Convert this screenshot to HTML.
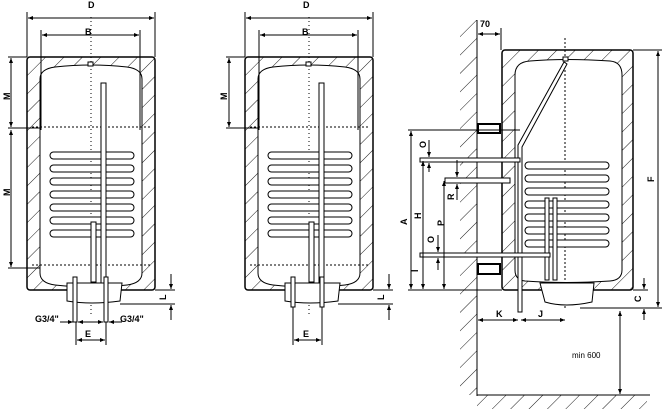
<!DOCTYPE html>
<html><head><style>body{margin:0;background:#fff}svg{display:block}text{font-family:"Liberation Sans",sans-serif;font-weight:bold;font-size:9px}</style></head><body>
<svg width="665" height="409" viewBox="0 0 665 409" xmlns="http://www.w3.org/2000/svg">
<defs>
<pattern id="h" width="13" height="13" patternUnits="userSpaceOnUse" patternTransform="rotate(45)"><line x1="0" y1="0" x2="0" y2="13" stroke="#000" stroke-width="0.9"/></pattern>
<marker id="a" viewBox="0 0 10 10" refX="10" refY="5" markerWidth="5" markerHeight="5" orient="auto-start-reverse"><path d="M0,1L10,5L0,9z" fill="#000"/></marker>
<g id="coil" fill="#fff" stroke="#000" stroke-width="1">
<rect x="0" y="0" width="84" height="7" rx="3.5"/><rect x="0" y="13" width="84" height="7" rx="3.5"/><rect x="0" y="26" width="84" height="7" rx="3.5"/><rect x="0" y="39" width="84" height="7" rx="3.5"/><rect x="0" y="52" width="84" height="7" rx="3.5"/><rect x="0" y="65" width="84" height="7" rx="3.5"/><rect x="0" y="78" width="84" height="7" rx="3.5"/>
</g>
<g id="tank">
<rect x="0" y="0" width="128" height="233" rx="3" fill="url(#h)" stroke="#000" stroke-width="1.5"/>
<path d="M13,22 Q13,12 28,10 Q64,6 100,10 Q115,12 115,22 L115,216 Q115,226 100,228 Q64,232 28,228 Q13,226 13,216Z" fill="#fff" stroke="#000"/>
<line x1="5" y1="70" x2="123" y2="70" stroke="#000" stroke-dasharray="2,2"/>
<line x1="5" y1="208" x2="123" y2="208" stroke="#000" stroke-dasharray="2,2"/>
<line x1="64" y1="-40" x2="64" y2="260" stroke="#000" stroke-dasharray="1,3"/>
<rect x="61" y="5" width="5" height="4" fill="#fff" stroke="#000"/>
<use href="#coil" x="23" y="95"/>
<rect x="74" y="26" width="5" height="200" fill="#fff" stroke="#000"/>
<rect x="64" y="165" width="5" height="60" fill="#fff" stroke="#000"/>
<path d="M40,226 L95,226 L93,244 Q64,248 40,244Z" fill="#fff" stroke="#000"/>
</g>
</defs>
<!-- left -->
<use href="#tank" x="27" y="57"/>
<rect x="73" y="277" width="4" height="45" fill="#fff" stroke="#000"/>
<rect x="104" y="277" width="4" height="45" fill="#fff" stroke="#000"/>
<g stroke="#000" fill="none">
<line x1="27" y1="12" x2="27" y2="57"/><line x1="155" y1="12" x2="155" y2="57"/>
<line x1="28" y1="18" x2="154" y2="18" marker-start="url(#a)" marker-end="url(#a)"/>
<line x1="41" y1="30" x2="41" y2="130"/><line x1="140" y1="30" x2="140" y2="130"/>
<line x1="42" y1="35" x2="139" y2="35" marker-start="url(#a)" marker-end="url(#a)"/>
<line x1="8" y1="57" x2="27" y2="57"/><line x1="8" y1="128" x2="40" y2="128"/><line x1="8" y1="268" x2="40" y2="268"/>
<line x1="11" y1="58" x2="11" y2="127" marker-start="url(#a)" marker-end="url(#a)"/>
<line x1="11" y1="130" x2="11" y2="267" marker-start="url(#a)" marker-end="url(#a)"/>
<line x1="155" y1="290" x2="175" y2="290"/><line x1="120" y1="304" x2="175" y2="304"/>
<line x1="171" y1="274" x2="171" y2="289" marker-end="url(#a)"/><line x1="171" y1="320" x2="171" y2="305" marker-end="url(#a)"/>
<line x1="60" y1="322" x2="73" y2="322" marker-end="url(#a)"/><line x1="90" y1="322" x2="78" y2="322" marker-end="url(#a)"/>
<line x1="90" y1="322" x2="103" y2="322" marker-end="url(#a)"/><line x1="122" y1="322" x2="109" y2="322" marker-end="url(#a)"/>
<line x1="76" y1="322" x2="76" y2="345"/><line x1="106" y1="322" x2="106" y2="345"/>
<line x1="77" y1="340" x2="105" y2="340" marker-start="url(#a)" marker-end="url(#a)"/>
</g>
<text x="88" y="8">D</text><text x="85" y="35">B</text>
<text x="10" y="100" transform="rotate(-90 10 100)">M</text><text x="10" y="196" transform="rotate(-90 10 196)">M</text>
<text x="166" y="300" transform="rotate(-90 166 300)">L</text>
<text x="35" y="322">G3/4"</text><text x="120" y="322">G3/4"</text><text x="85" y="337">E</text>
<!-- middle -->
<use href="#tank" x="245" y="57"/>
<rect x="291" y="277" width="4" height="30" fill="#fff" stroke="#000"/>
<rect x="320" y="277" width="4" height="30" fill="#fff" stroke="#000"/>
<g stroke="#000" fill="none">
<line x1="245" y1="12" x2="245" y2="57"/><line x1="373" y1="12" x2="373" y2="57"/>
<line x1="246" y1="18" x2="372" y2="18" marker-start="url(#a)" marker-end="url(#a)"/>
<line x1="259" y1="30" x2="259" y2="130"/><line x1="358" y1="30" x2="358" y2="130"/>
<line x1="260" y1="35" x2="357" y2="35" marker-start="url(#a)" marker-end="url(#a)"/>
<line x1="226" y1="57" x2="245" y2="57"/><line x1="226" y1="128" x2="258" y2="128"/>
<line x1="229" y1="58" x2="229" y2="127" marker-start="url(#a)" marker-end="url(#a)"/>
<line x1="373" y1="290" x2="393" y2="290"/><line x1="338" y1="304" x2="393" y2="304"/>
<line x1="389" y1="274" x2="389" y2="289" marker-end="url(#a)"/><line x1="389" y1="320" x2="389" y2="305" marker-end="url(#a)"/>
<line x1="293" y1="307" x2="293" y2="345"/><line x1="322" y1="307" x2="322" y2="345"/>
<line x1="294" y1="340" x2="321" y2="340" marker-start="url(#a)" marker-end="url(#a)"/>
</g>
<text x="303" y="8">D</text><text x="302" y="35">B</text>
<text x="227" y="100" transform="rotate(-90 227 100)">M</text>
<text x="384" y="300" transform="rotate(-90 384 300)">L</text><text x="303" y="337">E</text>
<!-- right -->
<rect x="460" y="20" width="17" height="375" fill="url(#h)"/>
<rect x="477" y="395" width="170" height="14" fill="url(#h)"/>
<g stroke="#000" fill="none">
<line x1="477" y1="20" x2="477" y2="396"/><line x1="477" y1="395" x2="650" y2="395"/>
<line x1="501" y1="28" x2="501" y2="50"/>
<line x1="478" y1="34" x2="500" y2="34" marker-start="url(#a)" marker-end="url(#a)"/>
</g>
<text x="480" y="27">70</text>
<rect x="502" y="50" width="131" height="240" rx="3" fill="url(#h)" stroke="#000" stroke-width="1.5"/>
<path d="M515,75 Q515,62 530,61 Q565,58 610,61 Q622,62 622,75 L622,270 Q622,280 610,281 Q565,284 525,281 Q515,280 515,270Z" fill="#fff" stroke="#000"/>
<line x1="565" y1="38" x2="565" y2="310" stroke="#000" stroke-dasharray="2,2"/>
<rect x="563" y="57" width="5" height="4" fill="#fff" stroke="#000"/>
<path d="M518,145 L518,312 L522,312 L522,147 L567,64 L564,62 Z" fill="#fff" stroke="#000"/>
<use href="#coil" x="525" y="162"/>
<rect x="545" y="198" width="4" height="82" fill="#fff" stroke="#000"/>
<rect x="553" y="198" width="4" height="82" fill="#fff" stroke="#000"/>
<rect x="478" y="124" width="22" height="9" fill="#fff" stroke="#000" stroke-width="2"/>
<rect x="478" y="264" width="22" height="10" fill="#fff" stroke="#000" stroke-width="2"/>
<rect x="420" y="158" width="100" height="4" fill="#fff" stroke="#000"/>
<rect x="445" y="178" width="65" height="5" fill="#fff" stroke="#000"/>
<rect x="420" y="253" width="130" height="4" fill="#fff" stroke="#000"/>
<path d="M540,283 L594,283 L592,302 Q565,308 545,302Z" fill="#fff" stroke="#000"/>
<g stroke="#000" fill="none">
<line x1="408" y1="130" x2="520" y2="130"/><line x1="408" y1="290" x2="502" y2="290"/>
<line x1="411" y1="131" x2="411" y2="289" marker-start="url(#a)" marker-end="url(#a)"/>
<line x1="423" y1="161" x2="423" y2="289" marker-start="url(#a)" marker-end="url(#a)"/>
<line x1="444" y1="181" x2="444" y2="289" marker-start="url(#a)" marker-end="url(#a)"/>
<line x1="429" y1="140" x2="429" y2="157" marker-end="url(#a)"/><line x1="429" y1="172" x2="429" y2="163" marker-end="url(#a)"/>
<line x1="457" y1="160" x2="457" y2="177" marker-end="url(#a)"/><line x1="457" y1="200" x2="457" y2="184" marker-end="url(#a)"/>
<line x1="438" y1="235" x2="438" y2="252" marker-end="url(#a)"/><line x1="438" y1="270" x2="438" y2="258" marker-end="url(#a)"/>
<line x1="633" y1="50" x2="662" y2="50"/><line x1="580" y1="308" x2="662" y2="308"/>
<line x1="658" y1="51" x2="658" y2="307" marker-start="url(#a)" marker-end="url(#a)"/>
<line x1="633" y1="290" x2="648" y2="290"/>
<line x1="644" y1="278" x2="644" y2="289" marker-end="url(#a)"/><line x1="644" y1="320" x2="644" y2="309" marker-end="url(#a)"/>
<line x1="620" y1="311" x2="620" y2="394" marker-start="url(#a)" marker-end="url(#a)"/>
<line x1="478" y1="320" x2="518" y2="320" marker-start="url(#a)" marker-end="url(#a)"/>
<line x1="521" y1="320" x2="565" y2="320" marker-start="url(#a)" marker-end="url(#a)"/>
</g>
<text x="397" y="215" transform="rotate(-90 407 215)">A</text>
<text x="417" y="215" transform="rotate(-90 421 215)">H</text>
<text x="440" y="222" transform="rotate(-90 444 222)">P</text>
<text x="426" y="148" transform="rotate(-90 426 148)">O</text>
<text x="434" y="243" transform="rotate(-90 434 243)">O</text>
<text x="454" y="200" transform="rotate(-90 454 200)">R</text>
<text x="418" y="272" transform="rotate(-90 418 272)">I</text>
<text x="654" y="182" transform="rotate(-90 654 182)">F</text>
<text x="641" y="302" transform="rotate(-90 641 302)">C</text>
<text x="496" y="317">K</text><text x="538" y="317">J</text>
<text x="572" y="358" style="font-weight:normal;font-size:8px">min 600</text>
</svg>
</body></html>
